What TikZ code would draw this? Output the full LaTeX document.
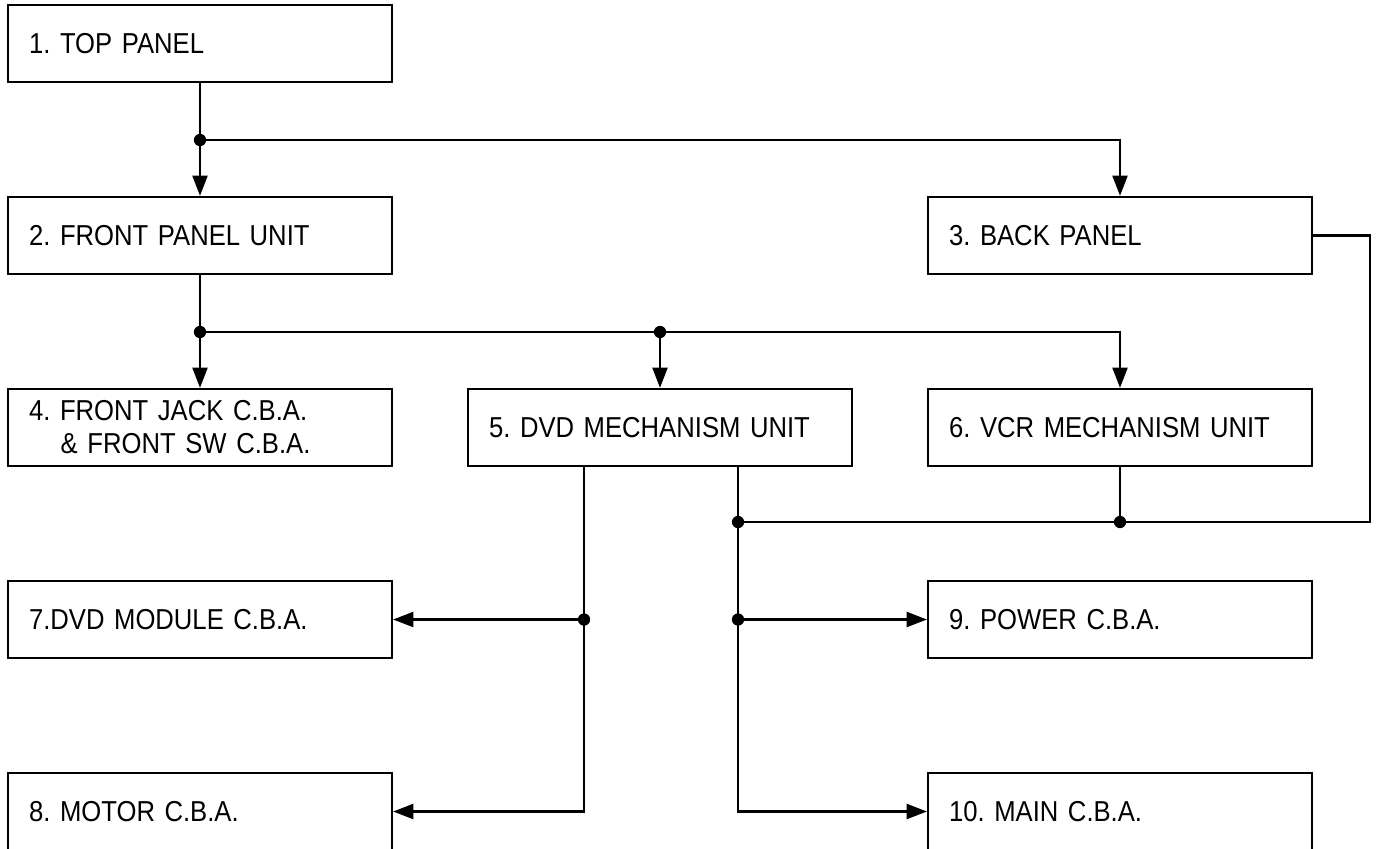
\documentclass[tikz,border=0pt]{standalone}
\usepackage{fontspec}
\setmainfont[FakeStretch=0.89]{Liberation Sans}
\usetikzlibrary{arrows.meta}
\tikzset{
  unitbox/.style={draw, line width=1.3pt, minimum height=1.54cm, text width=6.84cm, inner xsep=0.42cm, align=left},
  feed/.style={line width=1.3pt, -{Triangle[length=11.5pt, width=8.5pt]}},
  wire/.style={line width=1.3pt},
}

\begin{document}
\frenchspacing
\begin{tikzpicture}[x=0.02cm, y=-0.02cm, font=\fontsize{16.4}{18.8}\selectfont]
  \useasboundingbox (0,0) rectangle (1378,848);
  % boxes, three columns
  \node[unitbox] (top)   at (200,43.5)  {1. TOP PANEL};
  \node[unitbox] (front) at (200,235.5) {2. FRONT PANEL UNIT};
  \node[unitbox] (back)  at (1120,235.5) {3. BACK PANEL};
  \node[unitbox] (jack)  at (200,427.5) {4. FRONT JACK C.B.A.\\\hspace*{1.1em}\& FRONT SW C.B.A.};
  \node[unitbox] (dvd)   at (660,427.5) {5. DVD MECHANISM UNIT};
  \node[unitbox] (vcr)   at (1120,427.5) {6. VCR MECHANISM UNIT};
  \node[unitbox] (mod)   at (200,619.5) {7.DVD MODULE C.B.A.};
  \node[unitbox] (motor) at (200,811.5) {8. MOTOR C.B.A.};
  \node[unitbox] (power) at (1120,619.5) {9. POWER C.B.A.};
  \node[unitbox] (main)  at (1120,811.5) {10. MAIN C.B.A.};
  % junctions
  \coordinate (j1) at (200,140);
  \coordinate (j2) at (200,332);
  \coordinate (j3) at (660,332);
  \coordinate (j4) at (1120,522);
  \coordinate (j5) at (738,522);
  \coordinate (r1) at (1370,522);
  \coordinate (k1) at (584,619.5);
  \coordinate (k2) at (738,619.5);
  % connectors
  \draw[feed] (top) -- (front);
  \draw[feed] (j1) -| (back.north);
  \draw[feed] (front) -- (jack);
  \draw[feed] (j2) -| (vcr.north);
  \draw[feed] (j3) -- (dvd.north);
  \draw[wire] (back.east) -| (r1) -- (j5);
  \draw[wire] (vcr.south) -- (j4);
  \draw[feed] (k1 |- dvd.south) |- (motor.east);
  \draw[feed] (k1) -- (mod.east);
  \draw[feed] (k2 |- dvd.south) |- (main.west);
  \draw[feed] (k2) -- (power.west);
  \foreach \j in {j1,j2,j3,j4,j5,k1,k2}
    \fill (\j) circle (3.5pt);
\end{tikzpicture}
\end{document}
